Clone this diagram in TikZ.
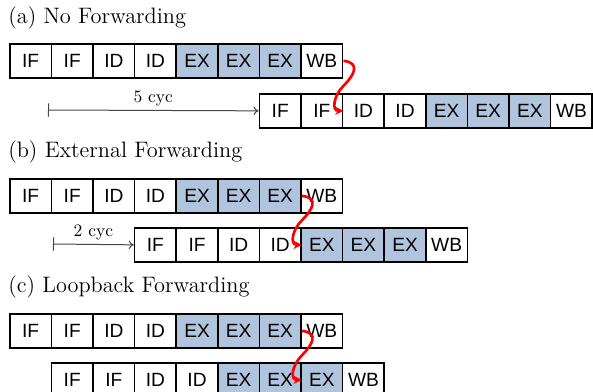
\documentclass[tikz,border=0pt]{standalone}
\usepackage{graphicx}
\usepackage{fontspec}
\newfontfamily\cellfont{Liberation Sans}
\usetikzlibrary{arrows.meta,calc}
\definecolor{exblue}{RGB}{176,196,222}
\definecolor{cycgray}{RGB}{70,70,70}
\newcommand{\pipeline}[3]{%
  \foreach \lbl/\st [count=\i] in {IF/cell,IF/cell,ID/cell,ID/cell,EX/excell,EX/excell,EX/excell,WB/cell}{%
    \node[\st] (#1-\i) at ({#2+(\i-1)*41.6},#3) {\lbl};
  }%
}
\begin{document}
\begin{tikzpicture}[x=0.6pt,y=-0.6pt,
  cell/.style={draw, line width=1pt, minimum width=24.96pt, minimum height=20.4pt,
    inner sep=0pt, anchor=north west, font=\cellfont\fontsize{11.5}{13}\selectfont},
  excell/.style={cell, fill=exblue},
  title/.style={anchor=base west, inner sep=0pt, font=\fontsize{13.4}{16}\selectfont},
  fwd/.style={red, line width=1.6pt, -{Stealth[length=5pt,width=5pt]}},
  cyc/.style={cycgray, line width=0.6pt, {Bar[width=8pt]}-{To[length=3pt,width=5pt]}},
  cyclabel/.style={midway, above, inner sep=2.5pt, text=black, font=\fontsize{10.5}{12}\selectfont}]
\clip (0,0) rectangle (593,391);

% (a)
\node[title] (ta) at (8,23) {(a) No Forwarding};
\pipeline{a1}{9}{43}
\pipeline{a2}{258.6}{93}
\coordinate (astart) at (48,110);
\draw[cyc] (astart) -- (a2-1.west) node[cyclabel] (la) {5 cyc};

% (b)
\node[title] (tb) at (8,157) {(b) External Forwarding};
\pipeline{b1}{9}{178}
\pipeline{b2}{133.8}{227}
\coordinate (bstart) at (53,244);
\draw[cyc] (bstart) -- (b2-1.west) node[cyclabel] (lb) {2 cyc};

% (c)
\node[title] (tc) at (8,292) {(c) Loopback Forwarding};
\pipeline{c1}{9}{313}
\pipeline{c2}{50.6}{362}

% forwarding arrows
\coordinate (am) at ($(a1-8.east)!0.5!(a2-2.east)$);
\draw[fwd] (a1-8.east) .. controls +(18,2) and +(10,-10) .. (am)
  .. controls +(-10,10) and +(-12,0) .. (a2-2.east);
\coordinate (bm) at ($(b1-7.east)!0.5!(b2-4.east)$);
\draw[fwd] (b1-7.east) .. controls +(18,2) and +(10,-10) .. (bm)
  .. controls +(-10,10) and +(-12,0) .. (b2-4.east);
\coordinate (cm) at ($(c1-7.east)!0.5!(c2-6.east)$);
\draw[fwd] (c1-7.east) .. controls +(18,2) and +(10,-10) .. (cm)
  .. controls +(-10,10) and +(-12,0) .. (c2-6.east);
\end{tikzpicture}
\end{document}
